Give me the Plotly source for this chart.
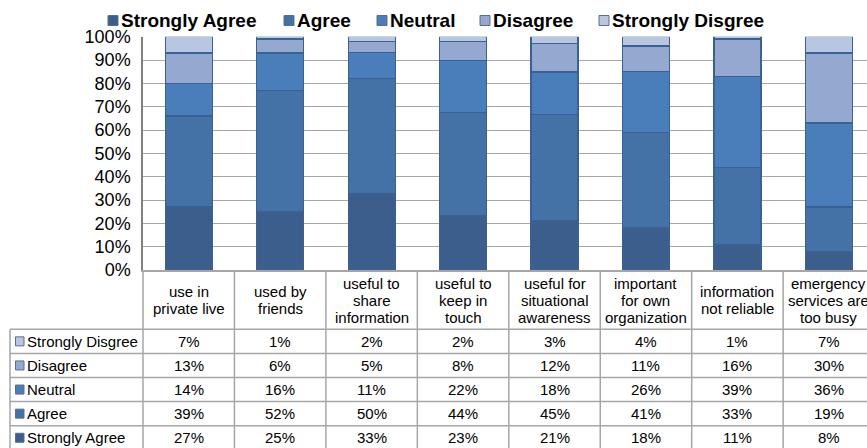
import plotly.graph_objects as go

# ---------------- data ----------------
categories = [
    "use in<br>private live",
    "used by<br>friends",
    "useful to<br>share<br>information",
    "useful to<br>keep in<br>touch",
    "useful for<br>situational<br>awareness",
    "important<br>for own<br>organization",
    "information<br>not reliable",
    "emergency<br>services are<br>too busy",
]
series_names = ["Strongly Agree", "Agree", "Neutral", "Disagree", "Strongly Disgree"]
strongly_agree = [27, 25, 33, 23, 21, 18, 11, 8]
agree = [39, 52, 50, 44, 45, 41, 33, 19]
neutral = [14, 16, 11, 22, 18, 26, 39, 36]
disagree = [13, 6, 5, 8, 12, 11, 16, 30]
strongly_disagree = [7, 1, 2, 2, 3, 4, 1, 7]
y_tick_values = [0, 10, 20, 30, 40, 50, 60, 70, 80, 90, 100]
y_tick_labels = [f"{v}%" for v in y_tick_values]

series_values = [strongly_agree, agree, neutral, disagree, strongly_disagree]
colors = ["#3B5E8C", "#4471A6", "#4A7EBB", "#95A9D0", "#B9C6E0"]
edge = "#3A6194"

# ---------------- layout constants (pixels) ----------------
W, H = 867, 448
PLOT_L, PLOT_T, PLOT_B = 143, 36.7, 270
COL_W = 91.45
TABLE_L = 10
HEADER_B = 329.3
ROW_H = 24.1
FONT = "Liberation Sans, Arial, sans-serif"
GRID = "#A6A6A6"


def px(x):
    return x / W


def py(y):
    return 1 - y / H


x_range_end = -0.5 + (W - PLOT_L) / COL_W

fig = go.Figure()
for name, vals, col in zip(series_names, series_values, colors):
    fig.add_trace(go.Bar(
        x=categories, y=vals, name=name,
        marker=dict(color=col, line=dict(color=edge, width=1.2)),
        width=0.514, showlegend=False, hoverinfo="name+y",
    ))

shapes = []
annotations = []


def col_px(i):
    return PLOT_L + i * COL_W


for i in range(len(categories) + 1):
    shapes.append(dict(type="line", xref="paper", yref="paper",
                       x0=px(col_px(i)), x1=px(col_px(i)), y0=py(PLOT_B), y1=py(H + 5),
                       line=dict(color=GRID, width=1.5)))
shapes.append(dict(type="line", xref="paper", yref="paper",
                   x0=px(TABLE_L), x1=px(TABLE_L), y0=py(HEADER_B), y1=py(H + 5),
                   line=dict(color=GRID, width=1.5)))
for r in range(6):
    yy = HEADER_B + r * ROW_H
    shapes.append(dict(type="line", xref="paper", yref="paper",
                       x0=px(TABLE_L), x1=1.0, y0=py(yy), y1=py(yy),
                       line=dict(color=GRID, width=1.5)))

HEADER_C = 300
LINE_SP = 17
for i, cat in enumerate(categories):
    lines = cat.split("<br>")
    n = len(lines)
    for k, ln in enumerate(lines):
        yc = HEADER_C + (k - (n - 1) / 2) * LINE_SP
        annotations.append(dict(xref="x", yref="paper", x=i, y=py(yc),
                                text=ln, showarrow=False, xanchor="center", yanchor="middle",
                                font=dict(family=FONT, size=15, color="black")))

row_order = [4, 3, 2, 1, 0]
for r, si in enumerate(row_order):
    yc = HEADER_B + r * ROW_H + ROW_H / 2
    shapes.append(dict(type="rect", xref="paper", yref="paper",
                       x0=px(15.5), x1=px(24), y0=py(yc - 4.5), y1=py(yc + 4.5),
                       fillcolor=colors[si], line=dict(color="#5A6E8C", width=1)))
    annotations.append(dict(xref="paper", yref="paper", x=px(25), y=py(yc),
                            text=series_names[si], showarrow=False, xanchor="left", yanchor="middle",
                            font=dict(family=FONT, size=15, color="black")))
    for i, v in enumerate(series_values[si]):
        annotations.append(dict(xref="x", yref="paper", x=i, y=py(yc),
                                text=f"{v}%", showarrow=False, xanchor="center", yanchor="middle",
                                font=dict(family=FONT, size=15, color="black")))

legend_sq_x = [107, 283, 376, 479, 598]
LEG_Y = 20.5
for name, col, lx in zip(series_names, colors, legend_sq_x):
    shapes.append(dict(type="rect", xref="paper", yref="paper",
                       x0=px(lx + 1), x1=px(lx + 11), y0=py(LEG_Y - 5), y1=py(LEG_Y + 5),
                       fillcolor=col, line=dict(color="#5A6E8C", width=1)))
    annotations.append(dict(xref="paper", yref="paper", x=px(lx + 12), y=py(LEG_Y),
                            text=f"<b>{name}</b>", showarrow=False, xanchor="left", yanchor="middle",
                            font=dict(family=FONT, size=19, color="black")))

fig.update_layout(
    width=W, height=H, autosize=False,
    margin=dict(l=0, r=0, t=0, b=0, pad=0, autoexpand=False),
    paper_bgcolor="white", plot_bgcolor="white",
    barmode="stack", barnorm="percent",
    bargap=0.486,
    xaxis=dict(domain=[px(PLOT_L), 1.0], range=[-0.5, x_range_end],
               showticklabels=False, showgrid=False, zeroline=False, automargin=False,
               showline=True, linecolor=GRID, linewidth=1.5, fixedrange=True),
    yaxis=dict(domain=[py(PLOT_B), py(PLOT_T)], range=[0, 100],
               tickvals=y_tick_values, ticktext=y_tick_labels,
               tickfont=dict(family=FONT, size=18, color="black"),
               showgrid=True, gridcolor=GRID, gridwidth=1, automargin=False,
               zeroline=False, showline=True, linecolor="#808080", linewidth=1.5,
               ticks="", ticklabelstandoff=7, fixedrange=True),
    shapes=shapes, annotations=annotations,
    showlegend=False,
)

post = ("document.body.style.margin='0';document.body.style.padding='0';"
        "document.body.style.overflow='hidden';"
        "document.documentElement.style.overflow='hidden';")
fig.write_html("out.html", post_script=post, config={"displayModeBar": False})
